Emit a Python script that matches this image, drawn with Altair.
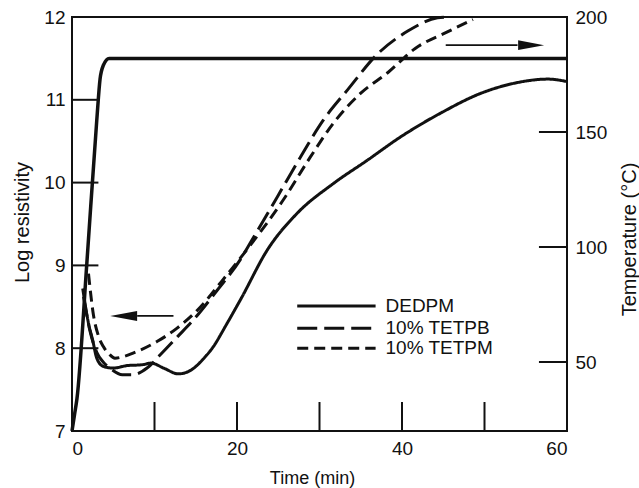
import altair as alt
import pandas as pd

FONT = "Liberation Sans"
INK = "#111111"

# ---------------- data ----------------
temp_time = [0, 0.3, 0.6, 1.8, 3.0, 3.4, 3.8, 4.5, 10, 20, 30, 40, 50, 60]
temp_c = [20, 27, 34, 93, 155, 173, 179, 182, 182, 182, 182, 182, 182, 182]

dedpm_time = [1.3, 2.0, 2.5, 3.0, 3.8, 5.0, 6.7, 8.5, 9.6, 11.1, 12.9, 14.5, 16.0,
              17.0, 18.8, 20.5, 23.7, 27.3, 31.7, 35.8, 39.8, 44.7, 49.6, 53.6, 57.7, 60]
dedpm_logr = [8.72, 8.3, 8.1, 7.88, 7.78, 7.76, 7.79, 7.8, 7.82, 7.76, 7.69, 7.74, 7.88,
              8.0, 8.3, 8.6, 9.19, 9.63, 9.99, 10.27, 10.55, 10.84, 11.08, 11.2, 11.25, 11.22]

tetpb_time = [1.4, 2.2, 3.0, 3.8, 4.6, 6.1, 7.4, 9.1, 10.7, 12.8, 14.7, 17.6, 20.4,
              21.6, 24.9, 27.7, 30.5, 33.4, 37.0, 40.7, 44.3, 45.5]
tetpb_logr = [8.62, 8.2, 7.95, 7.83, 7.76, 7.68, 7.68, 7.76, 7.92, 8.14, 8.34, 8.7, 9.07,
              9.27, 9.83, 10.31, 10.76, 11.12, 11.55, 11.83, 11.99, 12.0]

tetpm_time = [2.0, 2.6, 3.2, 3.8, 4.5, 5.2, 6.3, 7.4, 10.3, 12.7, 15.6, 18.0, 21.2,
              25.6, 28.9, 31.7, 35.0, 38.3, 41.6, 45.5, 48.6]
tetpm_logr = [8.9, 8.4, 8.15, 8.02, 7.93, 7.88, 7.9, 7.94, 8.08, 8.24, 8.5, 8.79, 9.19,
              9.79, 10.31, 10.72, 11.08, 11.33, 11.62, 11.82, 11.97]

series_names = ["DEDPM", "10% TETPB", "10% TETPM"]

x_label_values = [0, 20, 40, 60]
x_tick_values = [10, 20, 30, 40, 50]
left_label_values = [7, 8, 9, 10, 11, 12]
left_tick_values = [8, 9, 10, 11]
right_label_values = [50, 100, 150, 200]
right_tick_values = [50, 100, 150]

# ---------------- tables ----------------
rows = []
for name, ts, ls in zip(series_names,
                        [dedpm_time, tetpb_time, tetpm_time],
                        [dedpm_logr, tetpb_logr, tetpm_logr]):
    for i, (t, l) in enumerate(zip(ts, ls)):
        rows.append({"time": t, "logr": l, "series": name, "order": i})
res_df = pd.DataFrame(rows)
temp_df = pd.DataFrame({"time": temp_time, "temp": temp_c})

# ---------------- scales & axes ----------------
x_scale = alt.Scale(domain=[0, 60], nice=False, zero=False)
yl_scale = alt.Scale(domain=[7, 12], nice=False, zero=False)
yr_scale = alt.Scale(domain=[20, 200], nice=False, zero=False)
dash_scale = alt.Scale(domain=series_names, range=[[1, 0], [20, 7], [11, 6]])

common = dict(grid=False, domain=False, ticks=False, labelFont=FONT, titleFont=FONT,
              labelColor=INK, titleColor=INK, titleFontWeight="normal",
              labelFontSize=19)

# the same x axis is given to every layer so the shared axis merges cleanly
x_axis = alt.Axis(values=x_label_values, title="Time (min)", labelPadding=8,
                  titleFontSize=18, titleX=240, titleY=47, titleAlign="center",
                  titleBaseline="middle", **common)
yl_axis = alt.Axis(values=left_label_values, title="Log resistivity", orient="left",
                   labelPadding=7, titleFontSize=20, titleX=-50, titleY=205,
                   titleAlign="center", titleBaseline="middle", **common)
yr_axis = alt.Axis(values=right_label_values, title="Temperature (°C)", orient="right",
                   labelPadding=8, titleFontSize=20, titleAngle=270, titleX=62,
                   titleY=222, titleAlign="center", titleBaseline="middle", **common)

# ---------------- log-resistivity layers ----------------
res_lines = alt.Chart(res_df).mark_line(
    strokeWidth=3, color=INK, interpolate="monotone", strokeCap="butt"
).encode(
    x=alt.X("time:Q", scale=x_scale, axis=x_axis),
    y=alt.Y("logr:Q", scale=yl_scale, axis=yl_axis),
    detail="series:N",
    order="order:Q",
    strokeDash=alt.StrokeDash("series:N", scale=dash_scale, legend=None),
)

TICK_L = 0.35   # inward tick length on the bottom axis (log units)
TICK_T = 3.2    # inward tick length on the side axes (minutes)

x_ticks = alt.Chart(pd.DataFrame({"v": x_tick_values})).mark_rule(
    color=INK, strokeWidth=2
).encode(
    x=alt.X("v:Q", scale=x_scale, axis=x_axis),
    y=alt.datum(7, scale=yl_scale, axis=None),
    y2=alt.datum(7 + TICK_L),
)

left_ticks = alt.Chart(pd.DataFrame({"v": left_tick_values})).mark_rule(
    color=INK, strokeWidth=2
).encode(
    y=alt.Y("v:Q", scale=yl_scale, axis=None),
    x=alt.datum(0, scale=x_scale, axis=x_axis),
    x2=alt.datum(TICK_T),
)

# arrows (annotation)
arrow_df = pd.DataFrame({
    "tail": [12.3, 45.3],
    "base": [7.9, 54.0],
    "head": [6.26, 55.65],
    "y": [8.39, 11.66],
    "dir": ["left", "right"],
})
arrow_shaft = alt.Chart(arrow_df).mark_rule(color=INK, strokeWidth=1.8).encode(
    x=alt.X("tail:Q", scale=x_scale, axis=x_axis),
    x2="base:Q",
    y=alt.Y("y:Q", scale=yl_scale, axis=None),
)
head_left = alt.Chart(arrow_df[arrow_df["dir"] == "left"]).mark_point(
    shape="M-1,0L1,-0.37L1,0.37Z", size=729, filled=True, color=INK, opacity=1,
    strokeWidth=0
).encode(
    x=alt.X("head:Q", scale=x_scale, axis=x_axis),
    y=alt.Y("y:Q", scale=yl_scale, axis=None),
)
head_right = alt.Chart(arrow_df[arrow_df["dir"] == "right"]).mark_point(
    shape="M1,0L-1,-0.37L-1,0.37Z", size=676, filled=True, color=INK, opacity=1,
    strokeWidth=0
).encode(
    x=alt.X("head:Q", scale=x_scale, axis=x_axis),
    y=alt.Y("y:Q", scale=yl_scale, axis=None),
)

# in-plot legend
legend_df = pd.DataFrame({"series": series_names, "row": [8.51, 8.24, 8.0]})
legend_lines = alt.Chart(legend_df).mark_rule(strokeWidth=3, color=INK).encode(
    x=alt.datum(27.3, scale=x_scale, axis=x_axis),
    x2=alt.datum(36.8),
    y=alt.Y("row:Q", scale=yl_scale, axis=None),
    strokeDash=alt.StrokeDash("series:N", scale=dash_scale, legend=None),
)
legend_text = alt.Chart(legend_df).mark_text(
    align="left", baseline="middle", fontSize=19, font=FONT, color=INK
).encode(
    x=alt.datum(38.0, scale=x_scale, axis=x_axis),
    y=alt.Y("row:Q", scale=yl_scale, axis=None),
    text="series:N",
)

# ---------------- temperature layers ----------------
temp_line = alt.Chart(temp_df).mark_line(
    strokeWidth=3.5, color=INK, interpolate="monotone"
).encode(
    x=alt.X("time:Q", scale=x_scale, axis=x_axis),
    y=alt.Y("temp:Q", scale=yr_scale, axis=yr_axis),
)
right_ticks = alt.Chart(pd.DataFrame({"v": right_tick_values})).mark_rule(
    color=INK, strokeWidth=2
).encode(
    y=alt.Y("v:Q", scale=yr_scale, axis=None),
    x=alt.datum(60 - TICK_T - 0.2, scale=x_scale, axis=x_axis),
    x2=alt.datum(60),
)

chart = alt.layer(
    res_lines, temp_line, x_ticks, left_ticks, right_ticks, arrow_shaft,
    head_left, head_right, legend_lines, legend_text,
).resolve_scale(
    y="independent"
).properties(
    width=495,
    height=414,
    autosize=alt.AutoSizeParams(type="none"),
    padding={"left": 72, "top": 17, "right": 72, "bottom": 57},
    background="white",
).configure_view(
    stroke=INK, strokeWidth=2
)

chart.save("out.html", embed_options={"renderer": "svg", "actions": False})
